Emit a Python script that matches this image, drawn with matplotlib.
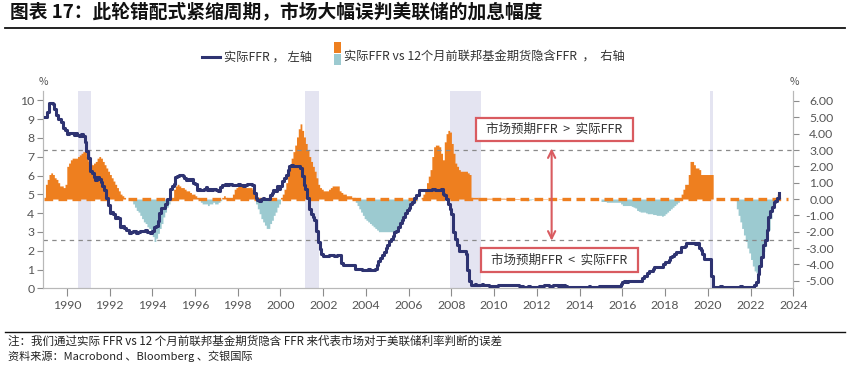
import numpy as np
import matplotlib
matplotlib.use("Agg")
import matplotlib.pyplot as plt
from matplotlib.lines import Line2D
from matplotlib.patches import Rectangle
from matplotlib.ticker import FixedLocator

plt.rcParams['font.family'] = ['Noto Sans CJK SC', 'DejaVu Sans']

# ---------------- data ----------------
start_year = 1989.0  # first monthly observation: Jan 1989

# Effective fed funds rate, monthly (left axis, %)
ffr = [
    9.12, 9.36, 9.85, 9.84, 9.81, 9.53, 9.24, 8.99, 9.02, 8.84, 8.55, 8.45,   # 1989
    8.23, 8.24, 8.28, 8.26, 8.18, 8.29, 8.15, 8.13, 8.20, 8.11, 7.81, 7.31,   # 1990
    6.91, 6.25, 6.12, 5.91, 5.78, 5.90, 5.82, 5.66, 5.45, 5.21, 4.81, 4.43,   # 1991
    4.03, 4.06, 3.98, 3.73, 3.82, 3.76, 3.25, 3.30, 3.22, 3.10, 3.09, 2.92,   # 1992
    3.02, 3.03, 3.07, 2.96, 3.00, 3.04, 3.06, 3.03, 3.09, 2.99, 3.02, 2.96,   # 1993
    3.05, 3.25, 3.34, 3.56, 4.01, 4.25, 4.26, 4.47, 4.73, 4.76, 5.29, 5.45,   # 1994
    5.53, 5.92, 5.98, 6.05, 6.01, 6.00, 5.85, 5.74, 5.80, 5.76, 5.80, 5.60,   # 1995
    5.56, 5.22, 5.31, 5.22, 5.24, 5.27, 5.40, 5.22, 5.30, 5.24, 5.31, 5.29,   # 1996
    5.25, 5.19, 5.39, 5.51, 5.50, 5.56, 5.52, 5.54, 5.54, 5.50, 5.52, 5.50,   # 1997
    5.56, 5.51, 5.49, 5.45, 5.49, 5.56, 5.54, 5.55, 5.51, 5.07, 4.83, 4.68,   # 1998
    4.63, 4.76, 4.81, 4.74, 4.74, 4.76, 4.99, 5.07, 5.22, 5.20, 5.42, 5.30,   # 1999
    5.45, 5.73, 5.85, 6.02, 6.27, 6.53, 6.54, 6.50, 6.52, 6.51, 6.51, 6.40,   # 2000
    5.98, 5.49, 5.31, 4.80, 4.21, 3.97, 3.77, 3.65, 3.07, 2.49, 2.09, 1.82,   # 2001
    1.73, 1.74, 1.73, 1.75, 1.75, 1.75, 1.73, 1.74, 1.75, 1.75, 1.34, 1.24,   # 2002
    1.24, 1.26, 1.25, 1.26, 1.26, 1.22, 1.01, 1.03, 1.01, 1.01, 1.00, 0.98,   # 2003
    1.00, 1.01, 1.00, 1.00, 1.00, 1.03, 1.26, 1.43, 1.61, 1.76, 1.93, 2.16,   # 2004
    2.28, 2.50, 2.63, 2.79, 3.00, 3.04, 3.26, 3.50, 3.62, 3.78, 4.00, 4.16,   # 2005
    4.29, 4.49, 4.59, 4.79, 4.94, 4.99, 5.24, 5.25, 5.25, 5.25, 5.25, 5.24,   # 2006
    5.25, 5.26, 5.26, 5.25, 5.25, 5.25, 5.26, 5.02, 4.94, 4.76, 4.49, 4.24,   # 2007
    3.94, 2.98, 2.61, 2.28, 1.98, 2.00, 2.01, 2.00, 1.81, 0.97, 0.39, 0.16,   # 2008
    0.15, 0.22, 0.18, 0.15, 0.18, 0.21, 0.16, 0.16, 0.15, 0.12, 0.12, 0.12,   # 2009
    0.11, 0.13, 0.16, 0.20, 0.20, 0.18, 0.18, 0.19, 0.19, 0.19, 0.19, 0.18,   # 2010
    0.17, 0.16, 0.14, 0.10, 0.09, 0.09, 0.07, 0.10, 0.08, 0.07, 0.08, 0.07,   # 2011
    0.08, 0.10, 0.13, 0.14, 0.16, 0.16, 0.16, 0.13, 0.14, 0.16, 0.16, 0.16,   # 2012
    0.14, 0.15, 0.14, 0.15, 0.11, 0.09, 0.09, 0.08, 0.08, 0.09, 0.08, 0.09,   # 2013
    0.07, 0.07, 0.08, 0.09, 0.09, 0.10, 0.09, 0.09, 0.09, 0.09, 0.09, 0.12,   # 2014
    0.11, 0.11, 0.11, 0.12, 0.12, 0.13, 0.13, 0.14, 0.14, 0.12, 0.12, 0.24,   # 2015
    0.34, 0.38, 0.36, 0.37, 0.37, 0.38, 0.39, 0.40, 0.40, 0.40, 0.41, 0.54,   # 2016
    0.65, 0.66, 0.79, 0.90, 0.91, 1.04, 1.15, 1.16, 1.15, 1.15, 1.16, 1.30,   # 2017
    1.41, 1.42, 1.51, 1.69, 1.70, 1.82, 1.91, 1.91, 1.95, 2.19, 2.20, 2.27,   # 2018
    2.40, 2.40, 2.41, 2.42, 2.39, 2.38, 2.40, 2.13, 2.04, 1.83, 1.55, 1.55,   # 2019
    1.55, 1.58, 0.65, 0.05, 0.05, 0.08, 0.09, 0.10, 0.09, 0.09, 0.09, 0.09,   # 2020
    0.09, 0.08, 0.07, 0.07, 0.06, 0.08, 0.10, 0.09, 0.08, 0.08, 0.08, 0.08,   # 2021
    0.08, 0.08, 0.20, 0.33, 0.77, 1.21, 1.68, 2.33, 2.56, 3.08, 3.78, 4.10,   # 2022
    4.33, 4.57, 4.65, 4.83, 5.06,                                             # 2023
]

# Actual FFR vs FFR implied by fed funds futures 12 months earlier (right axis, %)
spread = [
    0.9, 1.2, 1.5, 1.6, 1.5, 1.3, 1.2, 1.0, 0.8, 0.8, 0.7, 0.9,              # 1989
    2.0, 2.2, 2.4, 2.5, 2.5, 2.5, 2.6, 2.7, 2.8, 2.9, 3.0, 2.6,              # 1990
    2.3, 2.2, 2.1, 2.2, 2.3, 2.5, 2.6, 2.5, 2.3, 2.1, 1.9, 1.7,              # 1991
    1.5, 1.3, 1.1, 0.9, 0.7, 0.5, 0.3, 0.2, 0.1, 0.0, 0.0, 0.0,              # 1992
    -0.1, -0.3, -0.5, -0.7, -0.8, -1.0, -1.2, -1.4, -1.5, -1.7, -1.8, -2.0,  # 1993
    -2.3, -2.6, -2.4, -2.1, -1.8, -1.5, -1.1, -0.8, -0.5, -0.3, -0.1, 0.0,   # 1994
    0.6, 0.8, 0.9, 0.8, 0.7, 0.7, 0.6, 0.5, 0.5, 0.4, 0.3, 0.3,              # 1995
    0.2, 0.1, 0.0, -0.2, -0.3, -0.3, -0.3, -0.4, -0.3, -0.3, -0.2, -0.3,     # 1996
    -0.3, -0.2, -0.1, 0.1, 0.2, 0.1, 0.0, 0.0, 0.0, 0.3, 0.6, 0.7,           # 1997
    0.8, 0.9, 0.8, 0.8, 0.7, 0.7, 0.7, 0.7, 0.6, 0.3, -0.3, -0.6,            # 1998
    -0.9, -1.2, -1.4, -1.6, -1.8, -1.8, -1.5, -1.3, -1.0, -0.8, -0.5, -0.3,  # 1999
    0.1, 0.3, 0.6, 1.0, 1.5, 2.0, 2.5, 2.9, 3.3, 3.8, 4.3, 4.6,              # 2000
    4.2, 3.8, 3.4, 3.0, 2.6, 2.3, 2.0, 1.7, 1.3, 0.9, 0.7, 0.6,              # 2001
    0.5, 0.5, 0.5, 0.6, 0.7, 0.8, 0.8, 0.8, 0.8, 0.5, 0.4, 0.3,              # 2002
    0.3, 0.2, 0.2, 0.2, 0.1, 0.1, -0.2, -0.4, -0.6, -0.8, -1.0, -1.2,        # 2003
    -1.3, -1.4, -1.5, -1.6, -1.7, -1.8, -1.9, -2.0, -2.0, -2.0, -2.0, -2.0,  # 2004
    -2.0, -2.0, -2.0, -2.0, -2.0, -1.9, -1.7, -1.5, -1.3, -1.1, -0.9, -0.7,  # 2005
    -0.6, -0.4, -0.3, -0.2, -0.1, 0.0, 0.0, 0.1, 0.3, 0.6, 1.0, 1.4,         # 2006
    1.8, 2.6, 3.2, 3.3, 3.3, 3.2, 2.8, 2.4, 3.5, 4.0, 4.2, 4.1,              # 2007
    3.4, 2.8, 2.2, 2.0, 1.8, 1.7, 1.7, 1.7, 1.7, 1.6, 1.5, 0.1,              # 2008
    0.1, 0.1, 0.1, 0.05, 0.05, 0.05, 0.05, 0.05, 0.05, 0.05, 0.05, 0.05,     # 2009
    0.05, 0.05, 0.05, 0.05, 0.05, 0.05, 0.04, 0.04, 0.04, 0.03, 0.03, 0.03,  # 2010
    0.03, 0.03, 0.02, 0.0, -0.05, -0.08, -0.1, -0.08, -0.05, -0.03, 0.0, 0.0,  # 2011
    0.0, 0.0, 0.0, 0.02, 0.02, 0.02, 0.0, 0.0, 0.0, 0.0, 0.0, 0.0,           # 2012
    0.02, 0.02, 0.02, 0.0, 0.0, 0.0, 0.0, 0.0, 0.0, 0.0, 0.0, 0.0,           # 2013
    0.0, 0.0, 0.0, 0.0, 0.0, 0.0, 0.0, 0.0, 0.0, 0.0, 0.0, 0.0,              # 2014
    -0.15, -0.15, -0.15, -0.2, -0.2, -0.2, -0.2, -0.2, -0.2, -0.2, -0.2, -0.3,   # 2015
    -0.4, -0.4, -0.4, -0.4, -0.4, -0.45, -0.5, -0.55, -0.7, -0.75, -0.8, -0.8,   # 2016
    -0.8, -0.85, -0.9, -0.9, -0.9, -0.95, -0.95, -1.0, -1.0, -1.0, -1.05, -1.0,  # 2017
    -0.9, -0.8, -0.7, -0.6, -0.5, -0.4, -0.3, -0.2, -0.1, 0.3, 0.6, 0.9,     # 2018
    0.9, 1.5, 2.3, 2.3, 2.1, 1.9, 1.9, 1.8, 1.5, 1.5, 1.5, 1.5,              # 2019
    1.5, 1.5, 1.5, 0.0, 0.0, 0.0, 0.0, 0.0, 0.0, 0.0, 0.0, 0.0,              # 2020
    0.0, 0.0, 0.0, -0.1, -0.6, -1.0, -1.4, -1.8, -2.2, -2.6, -3.0, -3.3,     # 2021
    -3.7, -4.1, -4.4, -4.5, -4.2, -3.9, -3.6, -3.2, -2.9, -2.5, -1.9, -1.2,  # 2022
    -0.6, -0.2, 0.1, 0.3,                                                    # 2023
]

# NBER recessions (decimal years)
recession_start = [1990.54, 2001.17, 2007.92, 2020.08]
recession_end = [1991.12, 2001.80, 2009.40, 2020.25]

# reference lines on the right axis
upper_band = 3.0
lower_band = -2.5

year_ticks = list(range(1990, 2025, 2))
left_ticks = list(range(0, 11))
right_ticks = list(range(-5, 7))

title = "图表 17：此轮错配式紧缩周期，市场大幅误判美联储的加息幅度"
legend_line = "实际FFR ， 左轴"
legend_bar = "实际FFR vs 12个月前联邦基金期货隐含FFR  ，  右轴"
box_up = "市场预期FFR  >  实际FFR"
box_down = "市场预期FFR  <  实际FFR"
note = "注：我们通过实际 FFR vs 12 个月前联邦基金期货隐含 FFR 来代表市场对于美联储利率判断的误差"
source = "资料来源：Macrobond 、Bloomberg 、交银国际"

# ---------------- styling ----------------
NAVY = "#2e3371"
ORANGE = "#ee7f1f"
TEAL = "#9ccad0"
BAND = "#e4e4f1"
GRID = "#8a8a8a"
RED = "#d95b60"
TXT = "#555555"

W, H = 850, 371
fig = plt.figure(figsize=(8.5, 3.71), dpi=100)
fig.patch.set_facecolor("white")

def fx(px):
    return px / W

def fy(py):
    return 1 - py / H

ax = fig.add_axes([fx(43.3), fy(288.3), fx(793.3) - fx(43.3), fy(91) - fy(288.3)])
ax2 = ax.twinx()
ax.set_zorder(ax2.get_zorder() + 1)
ax.patch.set_visible(False)

x_ffr = start_year + np.arange(len(ffr)) / 12.0
x_sp = start_year + np.arange(len(spread) + 1) / 12.0
sp = np.array(spread + [spread[-1]])

# recession bands
for s, e in zip(recession_start, recession_end):
    ax2.axvspan(s, e, color=BAND, lw=0, zorder=0)

# spread fills
ax2.fill_between(x_sp, 0, np.where(sp > 0, sp, 0), step="post", color=ORANGE, lw=0, zorder=1)
ax2.fill_between(x_sp, 0, np.where(sp < 0, sp, 0), step="post", color=TEAL, lw=0, zorder=1)

# reference lines
ax2.axhline(upper_band, color=GRID, lw=0.9, dashes=(3.5, 3.5), zorder=2)
ax2.axhline(lower_band, color=GRID, lw=0.9, dashes=(3.5, 3.5), zorder=2)
ax2.plot([1988.95, 2023.75], [0, 0], color=ORANGE, lw=2.4, dashes=(2.6, 1.6), zorder=3,
         solid_capstyle="butt", dash_capstyle="butt")

# FFR line
ax.plot(x_ffr, ffr, drawstyle="steps-post", color=NAVY, lw=2.2, zorder=5)

# limits
ax.set_xlim(1988.9, 2024.0)
ax.set_ylim(0, 10.5)
ax2.set_ylim(-5.465, 6.612)

# spines
for a in (ax, ax2):
    a.spines["top"].set_visible(False)
    for side in ("left", "right", "bottom"):
        a.spines[side].set_color("#b8b8b8")
        a.spines[side].set_linewidth(0.8)

ax.xaxis.set_major_locator(FixedLocator(year_ticks))
ax.set_xticklabels([str(y) for y in year_ticks])
ax.yaxis.set_major_locator(FixedLocator(left_ticks))
ax.set_yticklabels([str(v) for v in left_ticks])
ax2.yaxis.set_major_locator(FixedLocator(right_ticks))
ax2.set_yticklabels([f"{v:.2f}" for v in right_ticks])

ax.tick_params(axis="x", direction="out", length=5.5, width=0.8, color="#8c8c8c", pad=3,
               labelcolor=TXT, labelsize=8.8)
ax.tick_params(axis="y", direction="out", length=4, width=0.8, color="#8c8c8c", pad=2.5,
               labelcolor=TXT, labelsize=8.8)
ax2.tick_params(axis="y", direction="out", length=4, width=0.8, color="#8c8c8c", pad=25,
                labelcolor=TXT, labelsize=8.8)
for lbl in ax.get_xticklabels() + ax.get_yticklabels():
    lbl.set_fontfamily(["Lato", "DejaVu Sans"])
for lbl in ax2.get_yticklabels():
    lbl.set_fontfamily(["Lato", "DejaVu Sans"])
    lbl.set_horizontalalignment("right")

# % unit labels
fig.text(fx(43), fy(81.7), "%", ha="center", va="center", fontsize=7.5, color=TXT)
fig.text(fx(794), fy(81.7), "%", ha="center", va="center", fontsize=7.5, color=TXT)

# annotation boxes
for (x0, x1, y0, y1, txt) in [(2009.15, 2016.5, 3.57, 4.98, box_up),
                               (2009.38, 2016.74, -4.49, -3.02, box_down)]:
    ax2.add_patch(Rectangle((x0, y0), x1 - x0, y1 - y0, facecolor="white",
                            edgecolor=RED, lw=1.6, zorder=6))
    ax2.text((x0 + x1) / 2, (y0 + y1) / 2, txt, ha="center", va="center",
             fontsize=9.0, color="#333333", zorder=7)

ax2.annotate("", xy=(2012.69, 3.1), xytext=(2012.69, -2.55),
             arrowprops=dict(arrowstyle="<->", color=RED, lw=1.5, shrinkA=0, shrinkB=0,
                             mutation_scale=13), zorder=6)

# legend (manual)
ly = fy(57)
fig.add_artist(Line2D([fx(201.7), fx(220)], [ly, ly], color=NAVY, lw=2.2))
fig.text(fx(224), ly, legend_line, ha="left", va="center", fontsize=8.8, color="#333333")
fig.add_artist(Rectangle((fx(334), fy(53.3)), fx(340.7) - fx(334), fy(41.7) - fy(53.3),
                         transform=fig.transFigure, facecolor=ORANGE, lw=0))
fig.add_artist(Rectangle((fx(334), fy(64.5)), fx(340.7) - fx(334), fy(54) - fy(64.5),
                         transform=fig.transFigure, facecolor=TEAL, lw=0))
fig.text(fx(344), ly, legend_bar, ha="left", va="center", fontsize=8.8, color="#333333")

# title and rules
fig.text(fx(10), fy(13), title, ha="left", va="center", fontsize=13.5, fontweight="bold",
         color="#111111")
fig.add_artist(Line2D([fx(5), fx(845)], [fy(28.3), fy(28.3)], color="#111111", lw=1.3))
fig.add_artist(Line2D([fx(5), fx(845)], [fy(332.3), fy(332.3)], color="#111111", lw=1.0))

fig.text(fx(8), fy(341.7), note, ha="left", va="center", fontsize=8.3, color="#222222")
fig.text(fx(8), fy(356), source, ha="left", va="center", fontsize=8.0, color="#222222")

fig.savefig("out.png", dpi=100, facecolor="white")
